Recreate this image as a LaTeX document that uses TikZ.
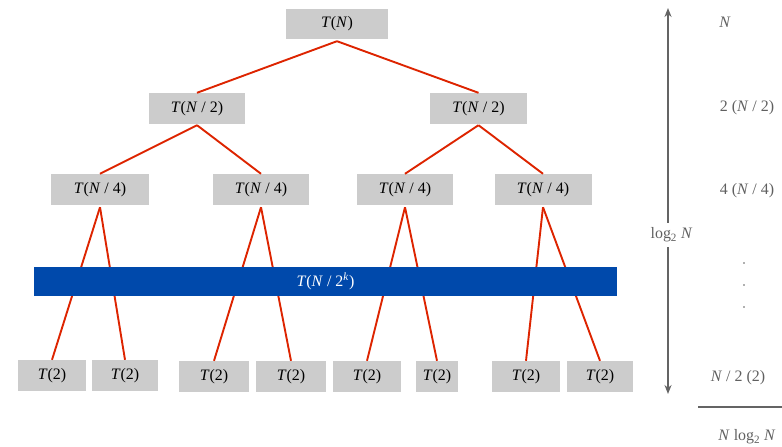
\documentclass[tikz,border=0pt]{standalone}
\usepackage{fontspec}
\setmainfont{Liberation Serif}
\usetikzlibrary{arrows.meta}
\definecolor{boxgray}{RGB}{204,204,204}
\definecolor{edgered}{RGB}{221,36,0}
\definecolor{barblue}{RGB}{0,73,171}
\definecolor{txtgray}{RGB}{96,96,96}
\definecolor{arrgray}{RGB}{100,100,100}
\begin{document}
\begin{tikzpicture}[x=1bp,y=-1bp,
  tbox/.style={fill=boxgray, minimum height=31bp, inner sep=0pt, font=\fontsize{16}{19}\selectfont},
  edge/.style={draw=edgered, line width=1.9bp},
  rtext/.style={text=txtgray, font=\fontsize{16}{19}\selectfont, inner sep=0pt},
  arr/.style={draw=arrgray, line width=1.7bp, -{Stealth[length=9bp,width=7bp]}},
  bar/.style={fill=barblue, text=white, minimum height=29bp, minimum width=583bp, inner sep=0pt, font=\fontsize{16}{19}\selectfont}
]
\useasboundingbox (0,0) rectangle (782,447);
% level 0
\node[tbox, minimum width=102bp, minimum height=30bp] (r) at (337,24) {\textit{T}(\textit{N})};
% level 1
\node[tbox, minimum width=96bp] (a1) at (197,108.5) {\textit{T}(\textit{N} / 2)};
\node[tbox, minimum width=97bp] (a2) at (478.5,108.5) {\textit{T}(\textit{N} / 2)};
% level 2
\node[tbox, minimum width=98bp] (b1) at (100,189.5) {\textit{T}(\textit{N} / 4)};
\node[tbox, minimum width=96bp] (b2) at (261,189.5) {\textit{T}(\textit{N} / 4)};
\node[tbox, minimum width=96bp] (b3) at (405,189.5) {\textit{T}(\textit{N} / 4)};
\node[tbox, minimum width=97bp] (b4) at (543,189.5) {\textit{T}(\textit{N} / 4)};
% leaves
\node[tbox, minimum width=68bp] (c1) at (52,375.5) {\textit{T}(2)};
\node[tbox, minimum width=66bp] (c2) at (125,375.5) {\textit{T}(2)};
\node[tbox, minimum width=70bp] (c3) at (214,376.5) {\textit{T}(2)};
\node[tbox, minimum width=70bp] (c4) at (291,376.5) {\textit{T}(2)};
\node[tbox, minimum width=68bp] (c5) at (367,376.5) {\textit{T}(2)};
\node[tbox, minimum width=42bp] (c6) at (437,376.5) {\textit{T}(2)};
\node[tbox, minimum width=68bp] (c7) at (526,376.5) {\textit{T}(2)};
\node[tbox, minimum width=66bp] (c8) at (600,376.5) {\textit{T}(2)};
% edges
\draw[edge] ([yshift=-2bp]r.south) -- (a1.north);
\draw[edge] ([yshift=-2bp]r.south) -- (a2.north);
\draw[edge] ([yshift=-1bp]a1.south) -- (b1.north);
\draw[edge] ([yshift=-1bp]a1.south) -- (b2.north);
\draw[edge] ([yshift=-1bp]a2.south) -- (b3.north);
\draw[edge] ([yshift=-1bp]a2.south) -- (b4.north);
\foreach \p/\l/\r in {b1/c1/c2, b2/c3/c4, b3/c5/c6, b4/c7/c8}{
  \draw[edge] ([yshift=-2bp]\p.south) -- (\l.north);
  \draw[edge] ([yshift=-2bp]\p.south) -- (\r.north);
}
% blue bar
\node[bar] (k) at (325.5,281.5) {\textit{T}(\textit{N} / 2\textsuperscript{\textit{k}})};
% right side arrow
\coordinate (top) at (668,8);
\coordinate (bot) at (668,394);
\node[rtext] (lg) at (671.5,235) {log\textsubscript{2} \textit{N}};
\draw[arr] (lg.north -| top) ++(0,-5) -- (top);
\draw[arr] (lg.south -| top) ++(0,5) -- (bot);
% right column
\node[rtext] (t0) at (725,22) {\textit{N}};
\node[rtext] (t1) at (747,108) {2 (\textit{N} / 2)};
\node[rtext] (t2) at (747,191) {4 (\textit{N} / 4)};
\fill[txtgray] (744,263) circle (0.8);
\fill[txtgray] (744,285) circle (0.8);
\fill[txtgray] (744,307) circle (0.8);
\node[rtext] (t3) at (738,378) {\textit{N} / 2 (2)};
\coordinate (s1) at (698,407);
\coordinate (s2) at (782,407);
\draw[draw=arrgray, line width=1.5bp] (s1) -- (s2);
\node[rtext] (t4) at (747,437) {\textit{N} log\textsubscript{2} \textit{N}};
\end{tikzpicture}
\end{document}
